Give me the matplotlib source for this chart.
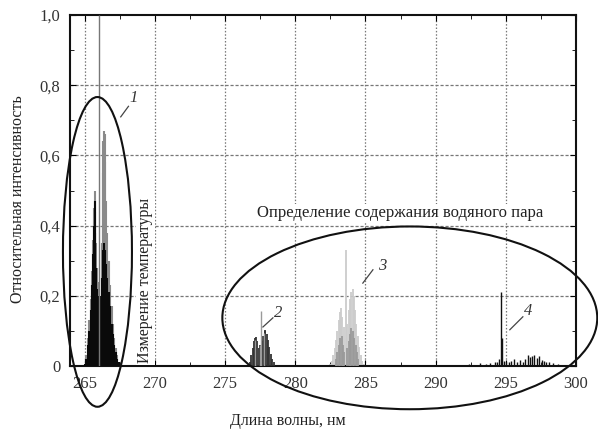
import matplotlib
matplotlib.use("Agg")
import matplotlib.pyplot as plt
from matplotlib.patches import Ellipse
from matplotlib.ticker import MultipleLocator, FuncFormatter

plt.rcParams["font.family"] = ["Liberation Serif", "DejaVu Serif"]

# Band 1 (temperature measurement), black and grey sticks
band1_black_wl = [265.0, 265.1, 265.2, 265.3, 265.4, 265.5, 265.6, 265.65, 265.7, 265.75,
                  265.8, 265.85, 265.9, 266.0, 266.1, 266.2, 266.3, 266.35, 266.4, 266.5,
                  266.6, 266.7, 266.8, 266.9, 267.0, 267.1, 267.2, 267.3, 267.4]
band1_black_int = [0.005, 0.02, 0.06, 0.10, 0.16, 0.23, 0.32, 0.40, 0.47, 0.38,
                   0.28, 0.22, 0.20, 0.18, 0.20, 0.25, 0.33, 0.35, 0.33, 0.29,
                   0.25, 0.21, 0.17, 0.12, 0.09, 0.06, 0.04, 0.02, 0.01]
band1_grey_wl = [265.1, 265.2, 265.3, 265.4, 265.5, 265.6, 265.65, 265.7, 265.75, 265.8,
                 265.85, 265.9, 266.0, 266.2, 266.25, 266.3, 266.35, 266.4, 266.45, 266.5,
                 266.6, 266.7, 266.8, 266.9, 267.0, 267.1, 267.2, 267.3]
band1_grey_int = [0.03, 0.08, 0.13, 0.19, 0.27, 0.36, 0.45, 0.50, 0.44, 0.35,
                  0.28, 0.24, 0.22, 0.35, 0.55, 0.64, 0.67, 0.66, 0.58, 0.47,
                  0.38, 0.30, 0.23, 0.17, 0.12, 0.08, 0.05, 0.03]
band1_peak_wl = [266.03]
band1_peak_int = [1.0]

# Band 2
band2_dark_wl = [276.75, 276.85, 276.95, 277.05, 277.15, 277.2, 277.3, 277.4, 277.5, 277.6,
                 277.7, 277.8, 277.85, 277.95, 278.05, 278.15, 278.25, 278.35, 278.45]
band2_dark_int = [0.01, 0.03, 0.05, 0.07, 0.08, 0.082, 0.07, 0.05, 0.06, 0.07,
                  0.085, 0.10, 0.103, 0.09, 0.075, 0.055, 0.035, 0.02, 0.01]
band2_grey_wl = [277.1, 277.45, 277.52, 277.75]
band2_grey_int = [0.075, 0.06, 0.157, 0.095]

# Band 3
band3_light_wl = [282.5, 282.6, 282.7, 282.8, 282.9, 283.0, 283.1, 283.2, 283.25, 283.35,
                  283.45, 283.6, 283.7, 283.8, 283.9, 284.0, 284.08, 284.15, 284.25, 284.35,
                  284.45, 284.55, 284.65, 284.75, 284.9]
band3_light_int = [0.005, 0.015, 0.03, 0.05, 0.075, 0.10, 0.13, 0.155, 0.165, 0.14,
                   0.11, 0.33, 0.12, 0.16, 0.19, 0.21, 0.22, 0.20, 0.16, 0.12,
                   0.085, 0.055, 0.03, 0.015, 0.005]
band3_mid_wl = [282.9, 283.0, 283.1, 283.2, 283.3, 283.4, 283.5, 283.7, 283.8, 283.9,
                284.0, 284.1, 284.2, 284.3, 284.4, 284.5]
band3_mid_int = [0.02, 0.04, 0.06, 0.08, 0.085, 0.06, 0.04, 0.05, 0.07, 0.09,
                 0.108, 0.10, 0.08, 0.06, 0.04, 0.02]

# Band 4
band4_wl = [292.4, 293.2, 293.6, 293.9, 294.2, 294.4, 294.55, 294.63, 294.7, 294.85,
            295.0, 295.2, 295.4, 295.6, 295.8, 296.0, 296.2, 296.4, 296.6, 296.75,
            296.9, 297.05, 297.2, 297.4, 297.55, 297.7, 297.9, 298.1, 298.4, 298.7, 299.0]
band4_int = [0.005, 0.008, 0.005, 0.008, 0.01, 0.012, 0.02, 0.212, 0.08, 0.015,
             0.01, 0.012, 0.015, 0.02, 0.012, 0.018, 0.01, 0.02, 0.03, 0.025,
             0.028, 0.03, 0.022, 0.028, 0.018, 0.015, 0.012, 0.01, 0.008, 0.005, 0.004]

x_ticks = [265, 270, 275, 280, 285, 290, 295, 300]
y_ticks = [0, 0.2, 0.4, 0.6, 0.8, 1.0]

fig = plt.figure(figsize=(5.98, 4.32), dpi=100)
ax = fig.add_axes([0.117, 0.153, 0.846, 0.812])

# Grid
for x in x_ticks[:-1]:
    ax.axvline(x, color="#777777", lw=0.9, ls=(0, (1.2, 1.5)), zorder=1)
for y in y_ticks[1:-1]:
    ax.axhline(y, color="#777777", lw=0.9, ls=(0, (2.5, 1.5)), zorder=1)

# Spectra
ax.vlines(band1_grey_wl, 0, band1_grey_int, color="#8a8a8a", lw=1.5, zorder=2)
ax.vlines(band1_black_wl, 0, band1_black_int, color="#0a0a0a", lw=1.5, zorder=3)
ax.vlines(band1_peak_wl, 0, band1_peak_int, color="#777777", lw=1.0, zorder=3)

ax.vlines(band2_dark_wl, 0, band2_dark_int, color="#333333", lw=1.3, zorder=3)
ax.vlines(band2_grey_wl, 0, band2_grey_int, color="#9a9a9a", lw=1.0, zorder=3)

ax.vlines(band3_light_wl, 0, band3_light_int, color="#cccccc", lw=1.3, zorder=2)
ax.vlines(band3_mid_wl, 0, band3_mid_int, color="#9a9a9a", lw=1.3, zorder=3)

ax.vlines(band4_wl, 0, band4_int, color="#111111", lw=1.0, zorder=3)

# Ellipses
ax.add_patch(Ellipse((265.89, 0.325), 4.92, 0.883, fill=False, lw=1.5,
                     ec="#111111", clip_on=False, zorder=5))
ax.add_patch(Ellipse((288.16, 0.137), 26.73, 0.521, fill=False, lw=1.5,
                     ec="#111111", clip_on=False, zorder=5))

# Numbered leaders
leaders = [((267.55, 268.1), (0.71, 0.74), (268.45, 0.765), "1"),
           ((277.69, 278.4), (0.111, 0.137), (278.8, 0.152), "2"),
           ((284.81, 285.53), (0.236, 0.274), (286.2, 0.285), "3"),
           ((295.29, 296.22), (0.103, 0.14), (296.6, 0.157), "4")]
for xs, ys, pos, lab in leaders:
    ax.plot(xs, ys, color="#444444", lw=0.9, zorder=6)
    ax.text(pos[0], pos[1], lab, fontsize=12, style="italic", color="#333333",
            ha="center", va="center", zorder=6)

ax.text(287.5, 0.436, "Определение содержания водяного пара", fontsize=12,
        color="#222222", ha="center", va="center", zorder=6,
        bbox=dict(facecolor="white", edgecolor="none", pad=1))
ax.text(269.3, 0.243, "Измерение температуры", fontsize=11.5, rotation=90,
        color="#222222", ha="center", va="center", zorder=6,
        bbox=dict(facecolor="white", edgecolor="none", pad=1))

ax.set_xlim(263.93, 300)
ax.set_ylim(0, 1.0)
ax.set_xticks(x_ticks)
ax.set_yticks(y_ticks)
ax.xaxis.set_minor_locator(MultipleLocator(2.5))
ax.yaxis.set_minor_locator(MultipleLocator(0.1))
ax.yaxis.set_major_formatter(FuncFormatter(lambda v, p: "0" if v == 0 else f"{v:.1f}".replace(".", ",")))
ax.tick_params(which="both", direction="in", top=True, right=True, labelsize=12,
               labelcolor="#333333", pad=7)
ax.tick_params(which="major", length=4)
ax.tick_params(which="minor", length=3)
for s in ax.spines.values():
    s.set_linewidth(1.5)
    s.set_color("#111111")

ax.set_xlabel("Длина волны, нм", fontsize=11.5, color="#222222")
ax.xaxis.set_label_coords(0.43, -0.135)
ax.set_ylabel("Относительная интенсивность", fontsize=11.5, color="#222222")
ax.yaxis.set_label_coords(-0.087, 0.476)

fig.savefig("out.png", dpi=100)
